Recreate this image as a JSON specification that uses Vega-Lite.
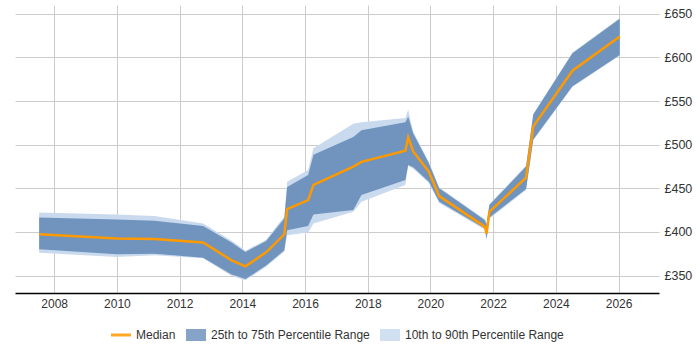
{
  "$schema": "https://vega.github.io/schema/vega-lite/v6.json",
  "width": 644,
  "height": 288,
  "padding": {"left": 15, "top": 5, "right": 5, "bottom": 5},
  "config": {
    "view": {"stroke": null},
    "font": "Liberation Sans",
    "legend": {"layout": {"bottom": {"anchor": "middle"}}},
    "axisY": {
      "orient": "right",
      "title": null,
      "values": [340, 350, 360, 370, 380, 390, 400, 410, 420, 430, 440, 450, 460, 470, 480, 490, 500, 510, 520, 530, 540, 550, 560, 570, 580, 590, 600, 610, 620, 630, 640, 650],
      "labelExpr": "datum.value % 50 === 0 ? '£' + datum.value : ''",
      "labelOverlap": false,
      "labelFlush": false,
      "gridColor": {"condition": {"test": "datum.value % 50 === 0", "value": "#cccccc"}, "value": "#e8e8e8"},
      "domain": false,
      "ticks": false,
      "labelPadding": 5,
      "labelFontSize": 12.5,
      "labelColor": "#333333"
    }
  },
  "data": {
    "values": [
      {"year": 2007.52, "p10": 376.2, "p25": 380.1, "p50": 397.4, "p75": 416.6, "p90": 422.3},
      {"year": 2010.0, "p10": 371.2, "p25": 374.3, "p50": 392.4, "p75": 414.3, "p90": 420.0},
      {"year": 2011.2, "p10": 373.2, "p25": 375.1, "p50": 392.0, "p75": 412.7, "p90": 418.1},
      {"year": 2012.75, "p10": 369.7, "p25": 370.5, "p50": 387.8, "p75": 406.9, "p90": 409.7},
      {"year": 2013.66, "p10": 349.5, "p25": 351.3, "p50": 367.4, "p75": 388.0, "p90": 390.0},
      {"year": 2014.1, "p10": 344.5, "p25": 345.9, "p50": 360.5, "p75": 377.0, "p90": 378.5},
      {"year": 2014.76, "p10": 360.0, "p25": 361.6, "p50": 376.6, "p75": 389.6, "p90": 391.0},
      {"year": 2015.34, "p10": 377.5, "p25": 378.9, "p50": 397.3, "p75": 415.4, "p90": 418.0},
      {"year": 2015.43, "p10": 396.2, "p25": 402.0, "p50": 426.0, "p75": 451.5, "p90": 457.6},
      {"year": 2016.1, "p10": 399.3, "p25": 406.9, "p50": 436.5, "p75": 465.3, "p90": 471.0},
      {"year": 2016.27, "p10": 409.7, "p25": 420.0, "p50": 453.8, "p75": 488.4, "p90": 496.0},
      {"year": 2017.54, "p10": 423.0, "p25": 425.0, "p50": 474.9, "p75": 508.8, "p90": 524.0},
      {"year": 2017.8, "p10": 434.6, "p25": 442.3, "p50": 480.3, "p75": 516.4, "p90": 525.6},
      {"year": 2019.2, "p10": 453.8, "p25": 459.6, "p50": 493.0, "p75": 525.6, "p90": 530.6},
      {"year": 2019.29, "p10": 475.5, "p25": 476.8, "p50": 508.3, "p75": 532.0, "p90": 540.0},
      {"year": 2019.45, "p10": 472.5, "p25": 474.0, "p50": 492.2, "p75": 513.0, "p90": 514.9},
      {"year": 2019.95, "p10": 456.0, "p25": 457.6, "p50": 469.0, "p75": 478.8, "p90": 480.0},
      {"year": 2020.28, "p10": 433.0, "p25": 434.6, "p50": 441.0, "p75": 450.0, "p90": 451.0},
      {"year": 2021.74, "p10": 402.5, "p25": 403.9, "p50": 405.8, "p75": 413.5, "p90": 414.5},
      {"year": 2021.79, "p10": 390.0, "p25": 392.4, "p50": 398.0, "p75": 408.0, "p90": 409.0},
      {"year": 2021.88, "p10": 415.0, "p25": 416.6, "p50": 423.0, "p75": 430.8, "p90": 432.0},
      {"year": 2023.05, "p10": 448.0, "p25": 449.2, "p50": 462.2, "p75": 474.9, "p90": 476.0},
      {"year": 2023.28, "p10": 505.0, "p25": 505.8, "p50": 520.9, "p75": 534.4, "p90": 535.0},
      {"year": 2024.53, "p10": 566.0, "p25": 567.0, "p50": 584.7, "p75": 604.7, "p90": 605.5},
      {"year": 2026.04, "p10": 602.0, "p25": 602.8, "p50": 623.8, "p75": 644.2, "p90": 645.0}
    ]
  },
  "encoding": {
    "x": {
      "field": "year",
      "type": "quantitative",
      "scale": {"domain": [2006.75, 2027.29], "nice": false, "zero": false},
      "axis": {
        "title": null,
        "values": [2008, 2010, 2012, 2014, 2016, 2018, 2020, 2022, 2024, 2026],
        "format": "d",
        "grid": true,
        "gridColor": "#cccccc",
        "ticks": false,
        "domainColor": "#000000",
        "domainWidth": 1.5,
        "labelPadding": 5,
        "labelFontSize": 12,
        "labelColor": "#333333",
        "labelFlush": false
      }
    }
  },
  "layer": [
    {
      "mark": {"type": "area"},
      "encoding": {
        "y": {
          "field": "p10",
          "type": "quantitative",
          "title": null,
          "scale": {"domain": [330, 660], "nice": false, "zero": false}
        },
        "y2": {"field": "p90"},
        "color": {
          "datum": "10th to 90th Percentile Range",
          "scale": {
            "domain": ["Median", "25th to 75th Percentile Range", "10th to 90th Percentile Range"],
            "range": ["#ff9900", "#7094bd", "#c9daee"]
          },
          "legend": {
            "title": null,
            "orient": "bottom",
            "direction": "horizontal",
            "symbolType": {"expr": "datum.value === 'Median' ? 'M-1,-0.15H1V0.15H-1Z' : 'M-1,-0.6H1V0.6H-1Z'"},
            "symbolSize": 400,
            "symbolStrokeWidth": 0,
            "symbolOpacity": 0.85,
            "labelFontSize": 12,
            "labelColor": "#333333",
            "labelOffset": 5,
            "columnPadding": 10,
            "offset": 16
          }
        }
      }
    },
    {
      "mark": {"type": "area"},
      "encoding": {
        "y": {"field": "p25", "type": "quantitative", "title": null},
        "y2": {"field": "p75"},
        "color": {"datum": "25th to 75th Percentile Range"}
      }
    },
    {
      "mark": {"type": "line", "strokeWidth": 2.5},
      "encoding": {
        "y": {"field": "p50", "type": "quantitative", "title": null},
        "color": {"datum": "Median"}
      }
    }
  ]
}
